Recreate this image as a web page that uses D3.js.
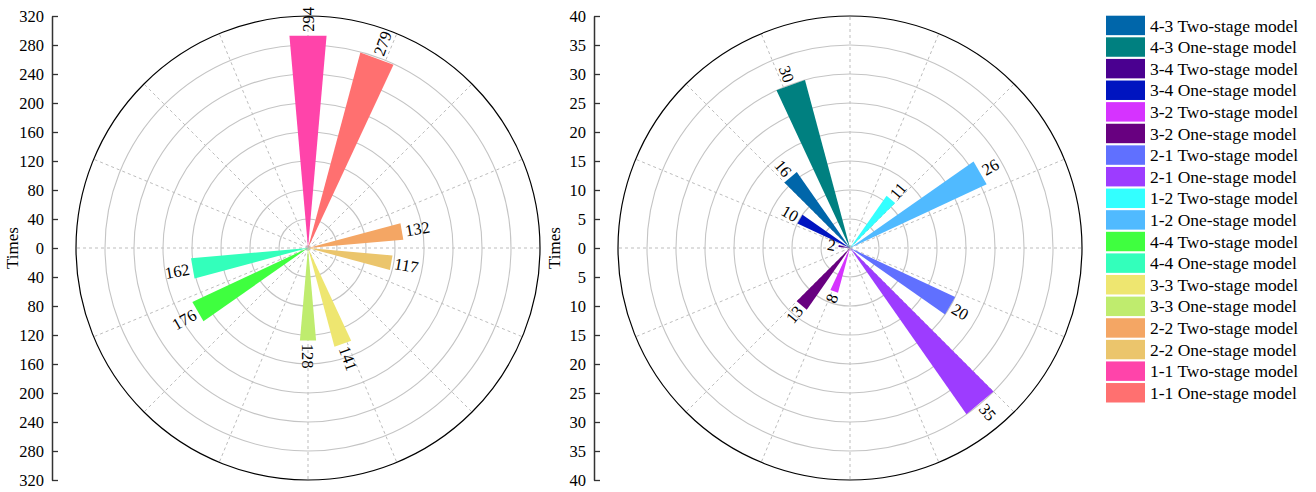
<!DOCTYPE html>
<html>
<head>
<meta charset="utf-8">
<script src="https://cdn.jsdelivr.net/npm/d3@7"></script>
<style>
  html, body { margin: 0; padding: 0; background: #fff; }
  svg { display: block; font-family: "Liberation Serif", "Times New Roman", serif; }
</style>
</head>
<body>
<svg id="chart" width="1316" height="492"></svg>
<script>
// Positions around the ring, clockwise from the top
const ringOrder = [
  "1-1 Two-stage model", "1-1 One-stage model",
  "1-2 Two-stage model", "1-2 One-stage model",
  "2-2 Two-stage model", "2-2 One-stage model",
  "2-1 Two-stage model", "2-1 One-stage model",
  "3-3 Two-stage model", "3-3 One-stage model",
  "3-2 Two-stage model", "3-2 One-stage model",
  "4-4 Two-stage model", "4-4 One-stage model",
  "3-4 Two-stage model", "3-4 One-stage model",
  "4-3 Two-stage model", "4-3 One-stage model"
];

// Same-class transitions (left panel)
const diagCategories = [
  "1-1 Two-stage model", "1-1 One-stage model",
  "2-2 Two-stage model", "2-2 One-stage model",
  "3-3 Two-stage model", "3-3 One-stage model",
  "4-4 Two-stage model", "4-4 One-stage model"
];
const diagValues = [294, 279, 132, 117, 141, 128, 176, 162];

// Cross-class transitions (right panel)
const offCategories = [
  "1-2 Two-stage model", "1-2 One-stage model",
  "2-1 Two-stage model", "2-1 One-stage model",
  "3-2 Two-stage model", "3-2 One-stage model",
  "3-4 Two-stage model", "3-4 One-stage model",
  "4-3 Two-stage model", "4-3 One-stage model"
];
const offValues = [11, 26, 20, 35, 8, 13, 2, 10, 16, 30];

// Legend entries, top to bottom, with their fills
const legendOrder = [
  "4-3 Two-stage model", "4-3 One-stage model",
  "3-4 Two-stage model", "3-4 One-stage model",
  "3-2 Two-stage model", "3-2 One-stage model",
  "2-1 Two-stage model", "2-1 One-stage model",
  "1-2 Two-stage model", "1-2 One-stage model",
  "4-4 Two-stage model", "4-4 One-stage model",
  "3-3 Two-stage model", "3-3 One-stage model",
  "2-2 Two-stage model", "2-2 One-stage model",
  "1-1 Two-stage model", "1-1 One-stage model"
];
const legendColors = [
  "#0066aa", "#008080",
  "#4a0090", "#0014c0",
  "#d633ff", "#680080",
  "#6070ff", "#9d3cff",
  "#33ffff", "#50baff",
  "#3fff3f", "#33ffbb",
  "#eee670", "#bfec6e",
  "#f4a664", "#ebc56c",
  "#ff44aa", "#ff7070"
];

const leftTicks = [0, 40, 80, 120, 160, 200, 240, 280, 320];
const rightTicks = [0, 5, 10, 15, 20, 25, 30, 35, 40];

const svg = d3.select("#chart");
const color = d3.scaleOrdinal().domain(legendOrder).range(legendColors);

// Angle of each category: 20° steps, wedges 10° wide, first one centred at 0°
const angle = d3.scaleBand().domain(ringOrder).range([-10, 350])
  .paddingInner(0.5).paddingOuter(0.25);

const R = 232;
const cy = 248;
const rad = d => d * Math.PI / 180;

function polar(cx, cyy, deg, r) {
  return [cx + r * Math.sin(rad(deg)), cyy - r * Math.cos(rad(deg))];
}

function drawPanel(cx, axisX, ticks, cats, vals) {
  const maxV = ticks[ticks.length - 1];
  const r = d3.scaleLinear().domain([0, maxV]).range([0, R]);
  const g = svg.append("g");

  // radial dashed spokes every 22.5°
  g.append("g").selectAll("line").data(d3.range(16)).join("line")
    .attr("x1", cx).attr("y1", cy)
    .attr("x2", i => polar(cx, cy, i * 22.5, R)[0])
    .attr("y2", i => polar(cx, cy, i * 22.5, R)[1])
    .attr("stroke", "#bdbdbd").attr("stroke-width", 1)
    .attr("stroke-dasharray", "3,3");

  // concentric rings
  g.append("g").selectAll("circle").data(ticks.slice(1, -1)).join("circle")
    .attr("cx", cx).attr("cy", cy).attr("r", d => r(d))
    .attr("fill", "none").attr("stroke", "#c4c4c4").attr("stroke-width", 1.1);

  g.append("circle").attr("cx", cx).attr("cy", cy).attr("r", r(maxV))
    .attr("fill", "none").attr("stroke", "#000").attr("stroke-width", 1.2);

  const data = cats.map((c, i) => ({ cat: c, value: vals[i] }));

  // wedges: triangle from the centre, flat outer edge
  g.append("g").selectAll("path").data(data).join("path")
    .attr("d", d => {
      const a0 = angle(d.cat), a1 = a0 + angle.bandwidth();
      const p0 = polar(cx, cy, a0, r(d.value));
      const p1 = polar(cx, cy, a1, r(d.value));
      return `M${cx},${cy}L${p0[0]},${p0[1]}L${p1[0]},${p1[1]}Z`;
    })
    .attr("fill", d => color(d.cat));

  // value labels along the radial direction
  g.append("g").selectAll("text").data(data).join("text")
    .each(function (d) {
      const a = angle(d.cat) + angle.bandwidth() / 2;
      const p = polar(cx, cy, a, r(d.value) + 3);
      const rightSide = a <= 180;
      const rot = rightSide ? a - 90 : a - 270;
      d3.select(this)
        .attr("transform", `translate(${p[0]},${p[1]}) rotate(${rot})`)
        .attr("text-anchor", rightSide ? "start" : "end")
        .attr("dy", "0.35em")
        .attr("font-size", 16.5)
        .attr("fill", "#000")
        .text(d.value);
    });

  // vertical Times axis, mirrored about the centre
  const y = d3.scaleLinear().domain([maxV, -maxV]).range([cy - R, cy + R]);
  const axisTicks = ticks.slice().reverse().concat(ticks.slice(1).map(v => -v));
  const axis = d3.axisLeft(y).tickValues(axisTicks)
    .tickFormat(v => Math.abs(v)).tickSizeInner(-6).tickSizeOuter(0).tickPadding(8);
  const ax = svg.append("g").attr("transform", `translate(${axisX},0)`).call(axis);
  ax.select(".domain").attr("stroke", "#333").attr("stroke-width", 1.5);
  ax.selectAll(".tick line").attr("stroke", "#333").attr("stroke-width", 1.3);
  ax.selectAll(".tick text").attr("font-size", 16.5).attr("fill", "#000")
    .attr("font-family", "Liberation Serif, Times New Roman, serif");

  svg.append("text")
    .attr("transform", `translate(${axisX - 34},${cy}) rotate(-90)`)
    .attr("text-anchor", "middle").attr("font-size", 17).attr("fill", "#000")
    .text("Times");
}

drawPanel(308, 52, leftTicks, diagCategories, diagValues);
drawPanel(850, 594, rightTicks, offCategories, offValues);

// legend
const ly = d3.scaleBand().domain(legendOrder).range([15.7, 402.5]).paddingInner(0.1).paddingOuter(0);
const lg = svg.append("g").selectAll("g").data(legendOrder).join("g")
  .attr("transform", d => `translate(1106,${ly(d)})`);
lg.append("rect").attr("width", 39).attr("height", ly.bandwidth())
  .attr("fill", d => color(d));
lg.append("text").attr("x", 44).attr("y", ly.bandwidth() / 2).attr("dy", "0.35em")
  .attr("font-size", 17.5).attr("fill", "#000").text(d => d);
</script>
</body>
</html>
